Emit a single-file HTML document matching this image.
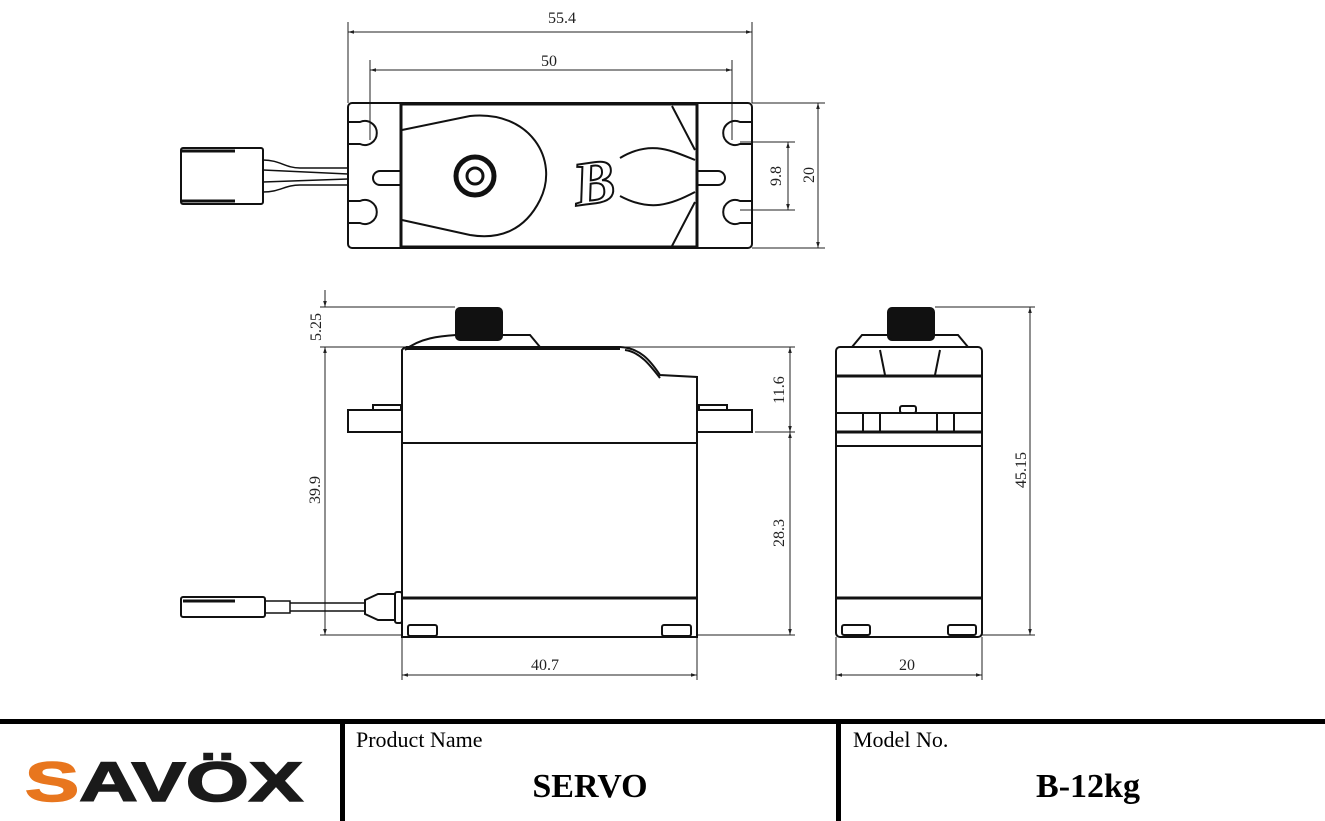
<!DOCTYPE html>
<html><head><meta charset="utf-8"><style>
html,body{margin:0;padding:0;background:#fff;}
svg{display:block}
.d{font-family:"Liberation Serif",serif;font-size:16px;fill:#222}
</style></head><body>
<svg width="1325" height="821" viewBox="0 0 1325 821" xmlns="http://www.w3.org/2000/svg">
<defs>
<marker id="a" viewBox="0 0 10 10" refX="10" refY="5" markerWidth="8" markerHeight="6" orient="auto-start-reverse"><path d="M0,2 L10,5 L0,8z" fill="#222"/></marker>
</defs>
<g stroke="#222" fill="none" stroke-width="1">
<line x1="348" y1="22" x2="348" y2="103"/><line x1="752" y1="22" x2="752" y2="103"/>
<line x1="348" y1="32" x2="752" y2="32" marker-start="url(#a)" marker-end="url(#a)"/>
<line x1="370" y1="60" x2="370" y2="140"/><line x1="732" y1="60" x2="732" y2="140"/>
<line x1="370" y1="70" x2="732" y2="70" marker-start="url(#a)" marker-end="url(#a)"/>
<line x1="752" y1="103" x2="825" y2="103"/><line x1="752" y1="248" x2="825" y2="248"/>
<line x1="818" y1="103" x2="818" y2="248" marker-start="url(#a)" marker-end="url(#a)"/>
<line x1="740" y1="142" x2="795" y2="142"/><line x1="740" y1="210" x2="795" y2="210"/>
<line x1="788" y1="142" x2="788" y2="210" marker-start="url(#a)" marker-end="url(#a)"/>
</g>
<g stroke="#111" fill="none" stroke-width="2">
<rect x="348" y="103" width="404" height="145" rx="4"/>
<rect x="401" y="104" width="296" height="143" stroke-width="3"/>
<path d="M348,122 L360,122 A12,12 0 1 1 360,144 L348,144"/>
<path d="M348,201 L360,201 A12,12 0 1 1 360,223 L348,223"/>
<path d="M752,122 L740,122 A12,12 0 1 0 740,144 L752,144"/>
<path d="M752,201 L740,201 A12,12 0 1 0 740,223 L752,223"/>
<path d="M401,171 L380,171 A6,6 0 0 0 380,185 L401,185"/>
<path d="M697,171 L718,171 A6,6 0 0 1 718,185 L697,185"/>
<path d="M402,130 L470,116 C530,110 560,160 540,200 C525,230 500,240 470,235 L402,220"/>
<circle cx="475" cy="176" r="19" stroke-width="5"/>
<circle cx="475" cy="176" r="8" stroke-width="3"/>
<path d="M672,106 L695,150 M672,246 L695,202"/>
<path d="M620,158 C650,140 670,150 695,160 M620,196 C650,212 670,205 695,192"/>
<rect x="181" y="148" width="82" height="56" rx="2"/>
<line x1="181" y1="151" x2="235" y2="151" stroke-width="3"/><line x1="181" y1="201" x2="235" y2="201" stroke-width="3"/>
<path d="M263,160 C280,160 285,168 300,168 L348,168 M263,192 C280,192 285,185 300,185 L348,185 M263,170 L348,174 M263,182 L348,179" stroke-width="1.5"/>
</g>
<text class="d" x="548" y="23" font-size="17">55.4</text>
<text class="d" x="541" y="66">50</text>
<text class="d" transform="translate(814,175) rotate(-90)" text-anchor="middle">20</text>
<text class="d" transform="translate(781,176) rotate(-90)" text-anchor="middle">9.8</text>
<text x="573" y="205" font-family="Liberation Serif,serif" font-weight="bold" font-style="italic" font-size="62" fill="#fff" stroke="#111" stroke-width="2" transform="rotate(-8 580 180)">B</text>

<g stroke="#222" fill="none" stroke-width="1">
<line x1="320" y1="307" x2="455" y2="307"/><line x1="320" y1="347" x2="795" y2="347"/>
<line x1="325" y1="290" x2="325" y2="307" marker-end="url(#a)"/>
<line x1="325" y1="347" x2="325" y2="635" marker-start="url(#a)" marker-end="url(#a)"/>
<line x1="320" y1="635" x2="402" y2="635"/>
<line x1="755" y1="432" x2="795" y2="432"/><line x1="697" y1="635" x2="795" y2="635"/>
<line x1="790" y1="347" x2="790" y2="432" marker-start="url(#a)" marker-end="url(#a)"/>
<line x1="790" y1="432" x2="790" y2="635" marker-start="url(#a)" marker-end="url(#a)"/>
<line x1="402" y1="637" x2="402" y2="680"/><line x1="697" y1="637" x2="697" y2="680"/>
<line x1="402" y1="675" x2="697" y2="675" marker-start="url(#a)" marker-end="url(#a)"/>
<line x1="935" y1="307" x2="1035" y2="307"/><line x1="982" y1="635" x2="1035" y2="635"/>
<line x1="1030" y1="307" x2="1030" y2="635" marker-start="url(#a)" marker-end="url(#a)"/>
<line x1="836" y1="637" x2="836" y2="680"/><line x1="982" y1="637" x2="982" y2="680"/>
<line x1="836" y1="675" x2="982" y2="675" marker-start="url(#a)" marker-end="url(#a)"/>
</g>
<text class="d" transform="translate(321,327) rotate(-90)" text-anchor="middle">5.25</text>
<text class="d" transform="translate(320,490) rotate(-90)" text-anchor="middle">39.9</text>
<text class="d" transform="translate(784,390) rotate(-90)" text-anchor="middle">11.6</text>
<text class="d" transform="translate(784,533) rotate(-90)" text-anchor="middle">28.3</text>
<text class="d" transform="translate(1026,470) rotate(-90)" text-anchor="middle">45.15</text>
<text class="d" x="531" y="670">40.7</text>
<text class="d" x="899" y="670">20</text>

<g stroke="#111" fill="none" stroke-width="2">
<rect x="456" y="308" width="46" height="32" rx="4" fill="#111"/>
<path d="M405,350 C420,338 440,336 456,335 L530,335 L540,347"/>
<path d="M402,637 L402,350 Q404,347 408,347 L620,347 C640,348 650,360 660,375 L697,377 L697,637 Z"/>
<line x1="406" y1="348" x2="620" y2="348" stroke-width="4"/>
<path d="M625,350 C640,352 650,365 660,378"/>
<path d="M402,410 L348,410 L348,432 L402,432 M697,410 L752,410 L752,432 L697,432"/>
<rect x="373" y="405" width="28" height="5"/><rect x="699" y="405" width="28" height="5"/>
<line x1="402" y1="443" x2="697" y2="443"/>
<line x1="402" y1="598" x2="697" y2="598" stroke-width="3"/>
<rect x="408" y="625" width="29" height="11" rx="2"/><rect x="662" y="625" width="29" height="11" rx="2"/>
<rect x="181" y="597" width="84" height="20" rx="2"/>
<line x1="183" y1="601" x2="235" y2="601" stroke-width="3"/>
<path d="M265,601 L290,601 L290,613 L265,613 M290,603 L365,603 M290,611 L365,611" stroke-width="1.5"/>
<path d="M365,600 L378,594 L395,594 L395,620 L378,620 L365,614 Z"/>
<rect x="395" y="592" width="7" height="31" rx="2"/>

<rect x="888" y="308" width="46" height="32" rx="4" fill="#111"/>
<path d="M852,347 L862,335 L958,335 L968,347"/>
<rect x="836" y="347" width="146" height="290" rx="4"/>
<line x1="836" y1="376" x2="982" y2="376" stroke-width="3"/>
<path d="M880,350 L885,375 M940,350 L935,375"/>
<line x1="836" y1="413" x2="982" y2="413"/>
<line x1="836" y1="432" x2="982" y2="432" stroke-width="3"/>
<line x1="836" y1="446" x2="982" y2="446"/>
<path d="M863,413 V432 M880,413 V432 M937,413 V432 M954,413 V432"/>
<rect x="900" y="406" width="16" height="7" rx="2"/>
<line x1="836" y1="598" x2="982" y2="598" stroke-width="3"/>
<rect x="842" y="625" width="28" height="10" rx="2"/><rect x="948" y="625" width="28" height="10" rx="2"/>
</g>

<rect x="0" y="719" width="1325" height="5" fill="#000"/>
<rect x="340" y="722" width="5" height="99" fill="#000"/>
<rect x="836" y="722" width="5" height="99" fill="#000"/>
<g font-family="Liberation Serif,serif" fill="#000">
<text x="356" y="747" font-size="22">Product Name</text>
<text x="590" y="797" font-size="34" font-weight="bold" text-anchor="middle">SERVO</text>
<text x="853" y="747" font-size="22">Model No.</text>
<text x="1088" y="797" font-size="34" font-weight="bold" text-anchor="middle">B-12kg</text>
</g>
<text x="25" y="801" font-family="Liberation Sans,sans-serif" font-weight="bold" font-size="56" textLength="278" lengthAdjust="spacingAndGlyphs" stroke="#1a1a1a" stroke-width="1.5"><tspan fill="#e8761e" stroke="#e8761e">S</tspan><tspan fill="#1a1a1a">AVÖX</tspan></text>
</svg>
</body></html>
